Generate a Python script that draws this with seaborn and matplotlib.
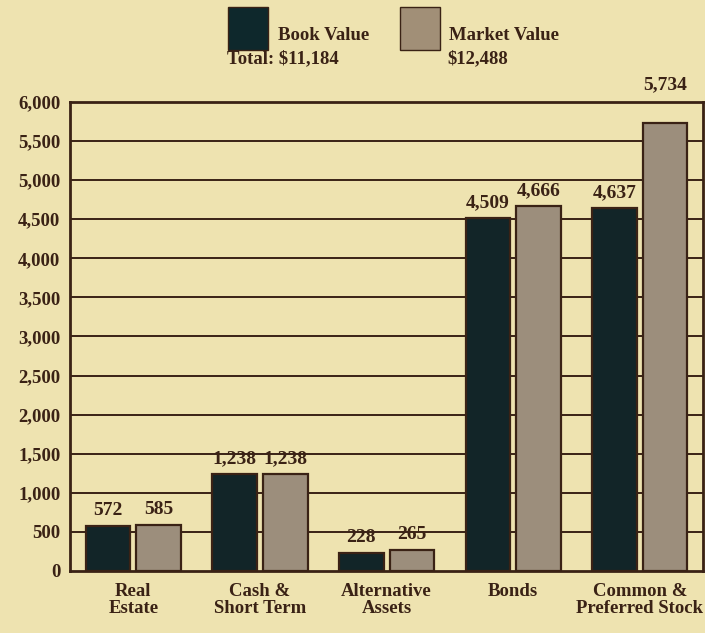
import matplotlib
matplotlib.use("Agg")
import matplotlib.pyplot as plt
import seaborn as sns
import pandas as pd
from matplotlib.patches import Rectangle

categories = ["Real\nEstate", "Cash &\nShort Term", "Alternative\nAssets", "Bonds", "Common &\nPreferred Stock"]
book_values = [572, 1238, 228, 4509, 4637]
market_values = [585, 1238, 265, 4666, 5734]
series_names = ["Book Value", "Market Value"]
totals = ["Total: $11,184", "$12,488"]
yticks = list(range(0, 6001, 500))

bg = "#eee3b0"
dark = "#0e282c"
taupe = "#a18f77"
ink = "#3a2215"

df = pd.DataFrame({
    "category": categories * 2,
    "series": [series_names[0]] * len(categories) + [series_names[1]] * len(categories),
    "value": book_values + market_values,
})

sns.set_theme(style="white")
plt.rcParams["font.family"] = ["Liberation Serif", "DejaVu Serif"]
plt.rcParams["font.weight"] = "bold"

fig = plt.figure(figsize=(7.05, 6.33), dpi=100, facecolor=bg)
ax = fig.add_axes([0.0993, 0.098, 0.898, 0.741])
ax.set_facecolor(bg)

sns.barplot(data=df, x="category", y="value", hue="series", order=categories,
            hue_order=series_names, palette=[dark, taupe], width=0.8, gap=0.12,
            edgecolor=ink, linewidth=1.6, ax=ax, legend=False, zorder=3)

for c in ax.containers:
    vals = list(c.datavalues)
    texts = ax.bar_label(c, labels=[f"{v:,.0f}" for v in vals], padding=5,
                         fontsize=14, color=ink, fontweight="bold")
    for v, t in zip(vals, texts):
        t.set_clip_on(False)
        t.set_zorder(10)
        if v > 5500:  # lift clear of the top frame
            t.xyann = (t.xyann[0], 21)

ax.set_ylim(0, 6000)
ax.set_xlim(-0.5, len(categories) - 0.5)
ax.set_yticks(yticks)
ax.set_yticklabels([f"{v:,}" for v in yticks], fontsize=13.5, color=ink, fontweight="bold")
for y in yticks[1:]:
    ax.axhline(y, color=ink, lw=1.4, zorder=1)
ax.tick_params(axis="y", length=4, width=1.2, color=ink, direction="out", pad=3)
ax.tick_params(axis="x", length=0, pad=9)
ax.set_xticks(range(len(categories)))
ax.set_xticklabels(categories, fontsize=13.5, color=ink, fontweight="bold", linespacing=1.0)
ax.set_xticks([i + 0.5 for i in range(len(categories) - 1)], minor=True)
ax.tick_params(axis="x", which="minor", direction="in", length=9, width=1.5, color=ink)
ax.set_xlabel("")
ax.set_ylabel("")
for s in ax.spines.values():
    s.set_visible(True)
    s.set_color(ink)
    s.set_linewidth(2)

# legend
W, H = 705, 633
def fx(x): return x / W
def fy(y): return 1 - y / H
fig.patches.append(Rectangle((fx(228), fy(50)), 40 / W, 43 / H, transform=fig.transFigure,
                             facecolor=dark, edgecolor=ink, lw=1))
fig.patches.append(Rectangle((fx(400), fy(50)), 40 / W, 43 / H, transform=fig.transFigure,
                             facecolor=taupe, edgecolor=ink, lw=1))
fig.text(fx(278), fy(35), series_names[0], fontsize=13.5, color=ink, fontweight="bold", va="center")
fig.text(fx(449), fy(35), series_names[1], fontsize=13.5, color=ink, fontweight="bold", va="center")
fig.text(fx(227), fy(59), totals[0], fontsize=13.5, color=ink, fontweight="bold", va="center")
fig.text(fx(447), fy(59), totals[1], fontsize=13.5, color=ink, fontweight="bold", va="center")

fig.savefig("out.png", dpi=100, facecolor=bg)
